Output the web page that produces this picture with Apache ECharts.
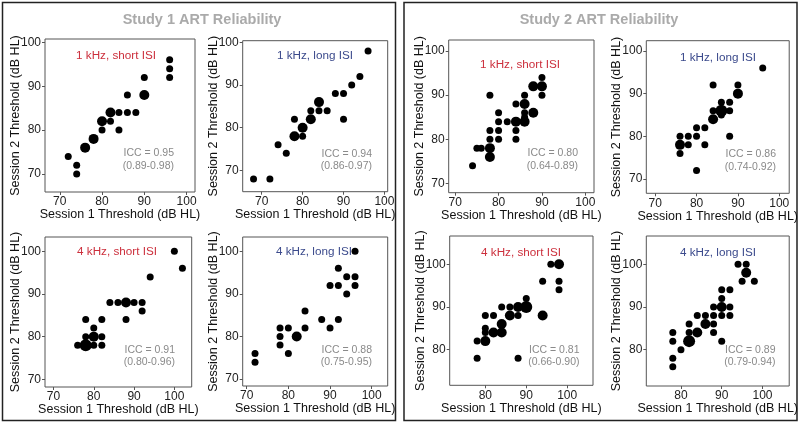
<!DOCTYPE html>
<html>
<head>
<meta charset="utf-8">
<script src="https://cdn.jsdelivr.net/npm/echarts@6/dist/echarts.min.js"></script>
<style>
html, body { margin: 0; padding: 0; background: #fff; }
#chart { width: 800px; height: 424px; }
</style>
</head>
<body>
<div id="chart"></div>
<script>
// each point: [session 1 threshold, session 2 threshold, count]
var s1_1k_short = [[96,96,1],[96,94,1],[96,92,1],[90,92,1],[90,88,2],[86,88,1],[82,84,2],[84,84,1],[86,84,1],[88,84,1],[80,82,2],[82,82,1],[80,80,1],[84,80,1],[78,78,2],[76,76,2],[72,74,1],[74,72,1],[74,70,1]];
var s1_1k_long = [[96,98,1],[94,92,1],[92,90,1],[88,88,1],[90,88,1],[84,86,2],[82,84,1],[84,84,1],[86,84,1],[78,82,1],[82,82,2],[90,82,1],[80,80,2],[78,78,2],[80,78,1],[74,76,1],[76,74,1],[68,68,1],[72,68,1]];
var s1_4k_short = [[100,100,1],[102,96,1],[94,94,1],[84,88,1],[86,88,1],[88,88,2],[90,88,1],[92,88,1],[92,86,1],[78,84,1],[82,84,1],[88,84,1],[80,82,1],[78,80,1],[80,80,2],[82,80,1],[76,78,1],[78,78,3],[80,78,1],[82,78,1]];
var s1_4k_long = [[96,100,1],[92,96,1],[94,94,1],[96,94,1],[90,92,1],[92,92,1],[96,92,1],[94,90,1],[84,86,1],[88,84,1],[92,84,1],[78,82,1],[80,82,1],[84,82,1],[90,82,1],[78,80,1],[82,80,2],[78,78,1],[80,76,1],[72,76,1],[72,74,1]];
var s2_1k_short = [[90,94,1],[88,92,2],[90,92,2],[78,90,1],[86,90,1],[90,90,1],[84,88,1],[86,88,2],[80,86,1],[86,86,1],[88,86,2],[86,85,1],[80,84,1],[82,84,1],[84,84,2],[86,84,2],[78,82,1],[80,82,1],[84,82,1],[78,80,1],[80,80,1],[84,80,1],[75,78,1],[76,78,1],[78,78,2],[78,76,2],[74,74,1]];
var s2_1k_long = [[96,96,1],[84,92,1],[90,92,1],[90,90,2],[86,88,1],[88,88,1],[84,86,1],[86,86,3],[88,86,1],[86,85,1],[84,84,2],[80,82,1],[82,82,1],[76,80,1],[78,80,1],[80,80,1],[88,80,1],[76,78,2],[78,78,1],[82,78,1],[76,76,1],[80,72,1]];
var s2_4k_short = [[96,100,1],[98,100,2],[94,96,1],[98,96,1],[98,94,1],[90,92,1],[84,90,1],[86,90,1],[88,90,2],[90,90,3],[80,88,1],[82,88,1],[86,88,2],[88,88,1],[94,88,2],[84,86,2],[80,85,1],[80,84,1],[82,84,2],[84,84,2],[78,82,1],[80,82,2],[78,78,1],[88,78,1]];
var s2_4k_long = [[94,100,1],[96,100,1],[96,98,2],[95,96,1],[98,96,1],[90,94,1],[92,94,1],[90,92,1],[88,90,1],[90,90,2],[92,90,1],[84,88,1],[86,88,1],[88,88,1],[90,88,1],[92,88,1],[82,86,1],[86,86,2],[88,86,1],[78,84,1],[82,84,1],[84,84,2],[88,84,1],[78,82,1],[82,82,3],[90,82,1],[80,80,1],[78,78,1],[78,76,1]];

var ticksWide = [70, 80, 90, 100];
var ticksHigh = [80, 90, 100];

var studyTitles = ['Study 1 ART Reliability', 'Study 2 ART Reliability'];
var panelLabels = ['1 kHz, short ISI', '1 kHz, long ISI', '4 kHz, short ISI', '4 kHz, long ISI',
                   '1 kHz, short ISI', '1 kHz, long ISI', '4 kHz, short ISI', '4 kHz, long ISI'];
var iccValues = ['ICC = 0.95\n(0.89-0.98)', 'ICC = 0.94\n(0.86-0.97)', 'ICC = 0.91\n(0.80-0.96)', 'ICC = 0.88\n(0.75-0.95)',
                 'ICC = 0.80\n(0.64-0.89)', 'ICC = 0.86\n(0.74-0.92)', 'ICC = 0.81\n(0.66-0.90)', 'ICC = 0.89\n(0.79-0.94)'];
var panelData = [s1_1k_short, s1_1k_long, s1_4k_short, s1_4k_long, s2_1k_short, s2_1k_long, s2_4k_short, s2_4k_long];
var xTicks = [ticksWide, ticksWide, ticksWide, ticksWide, ticksWide, ticksWide, ticksHigh, ticksHigh];
var yTicks = [ticksWide, ticksWide, ticksWide, ticksWide, ticksWide, ticksWide, ticksHigh, ticksHigh];

// panel boxes in pixels and axis extents
var layout = [
  {l: 45,    t: 39,   r: 195,   b: 192,   x: [66.5, 102],   y: [65.9, 100.75], lab: [116, 56],   icc: [174, 159.5]},
  {l: 242.7, t: 40.7, r: 387.7, b: 191.7, x: [65.35, 100.8], y: [65, 100.4],   lab: [315, 56],   icc: [372, 160]},
  {l: 45,    t: 237,  r: 191.7, b: 387,   x: [67.9, 104.3], y: [68.2, 103.35], lab: [117, 252],  icc: [175, 356]},
  {l: 242.7, t: 237,  r: 387.7, b: 386,   x: [69.04, 103.84], y: [68.4, 103.35], lab: [314, 252], icc: [372, 356]},
  {l: 448.7, t: 40,   r: 594,   b: 192.7, x: [68.5, 102],   y: [67.9, 102.5],  lab: [520, 65],   icc: [578, 159.5]},
  {l: 646.3, t: 40.7, r: 790.7, b: 193.3, x: [67.85, 102.4], y: [66.65, 102.4], lab: [718, 57.5], icc: [776, 160.5]},
  {l: 449.7, t: 236,  r: 593,   b: 385.3, x: [71.3, 106.3], y: [71.66, 106.6], lab: [521, 253],  icc: [579.5, 356]},
  {l: 646.3, t: 236,  r: 790.7, b: 386,   x: [71.5, 106.55], y: [71.5, 106.6], lab: [718, 253],  icc: [775.5, 356]}
];
var labelColors = ['#cc2f3c', '#3b4a8c', '#cc2f3c', '#3b4a8c', '#cc2f3c', '#3b4a8c', '#cc2f3c', '#3b4a8c'];

var FONT = '"Liberation Sans", Arial, sans-serif';
var grids = [], xAxes = [], yAxes = [], series = [], graphics = [];

graphics.push({type: 'rect', shape: {x: 2.5, y: 2.5, width: 393, height: 418}, style: {fill: 'none', stroke: '#222', lineWidth: 1.5}});
graphics.push({type: 'rect', shape: {x: 404, y: 2.5, width: 393, height: 418}, style: {fill: 'none', stroke: '#222', lineWidth: 1.5}});
graphics.push({type: 'text', x: 202, y: 20, style: {text: studyTitles[0], fill: '#aaaaaa', font: 'bold 14.5px ' + FONT, align: 'center', verticalAlign: 'middle'}});
graphics.push({type: 'text', x: 599, y: 20, style: {text: studyTitles[1], fill: '#aaaaaa', font: 'bold 14.5px ' + FONT, align: 'center', verticalAlign: 'middle'}});

for (var i = 0; i < 8; i++) {
  var L = layout[i];
  grids.push({left: L.l, top: L.t, width: L.r - L.l, height: L.b - L.t,
    show: true, borderColor: '#555', borderWidth: 1, backgroundColor: '#fff'});
  xAxes.push({
    type: 'value', gridIndex: i, min: L.x[0], max: L.x[1],
    name: 'Session 1 Threshold (dB HL)', nameLocation: 'middle', nameGap: 16.5, nameMoveOverlap: false,
    nameTextStyle: {color: '#111', fontSize: 12.5, fontFamily: FONT},
    axisLine: {show: false},
    axisTick: {show: true, length: 3, inside: false, customValues: xTicks[i], lineStyle: {color: '#555'}},
    axisLabel: {customValues: xTicks[i], color: '#222', fontSize: 12, fontFamily: FONT, margin: 4},
    splitLine: {show: false}
  });
  yAxes.push({
    type: 'value', gridIndex: i, min: L.y[0], max: L.y[1],
    name: 'Session 2 Threshold (dB HL)', nameLocation: 'middle', nameGap: 23, nameMoveOverlap: false,
    nameTextStyle: {color: '#111', fontSize: 12.5, fontFamily: FONT},
    axisLine: {show: false},
    axisTick: {show: true, length: 3, inside: false, customValues: yTicks[i], lineStyle: {color: '#555'}},
    axisLabel: {customValues: yTicks[i], color: '#222', fontSize: 12, fontFamily: FONT, margin: 4},
    splitLine: {show: false}
  });
  series.push({
    type: 'scatter', xAxisIndex: i, yAxisIndex: i, data: panelData[i],
    symbolSize: function (d) { return d[2] === 1 ? 7 : (d[2] === 2 ? 10 : 12); },
    itemStyle: {color: '#000', opacity: 1},
    silent: true
  });
  graphics.push({type: 'text', x: L.lab[0], y: L.lab[1], z: 100,
    style: {text: panelLabels[i], fill: labelColors[i], font: '11.7px ' + FONT, align: 'center', verticalAlign: 'middle'}});
  graphics.push({type: 'text', x: L.icc[0], y: L.icc[1], z: 100,
    style: {text: iccValues[i], fill: '#8a8a8a', font: '10.5px ' + FONT, align: 'right', verticalAlign: 'middle', lineHeight: 12.5}});
}

var myChart = echarts.init(document.getElementById('chart'));
var option = {
  animation: false,
  backgroundColor: '#fff',
  grid: grids,
  xAxis: xAxes,
  yAxis: yAxes,
  series: series,
  graphic: graphics
};
myChart.setOption(option);
</script>
</body>
</html>
